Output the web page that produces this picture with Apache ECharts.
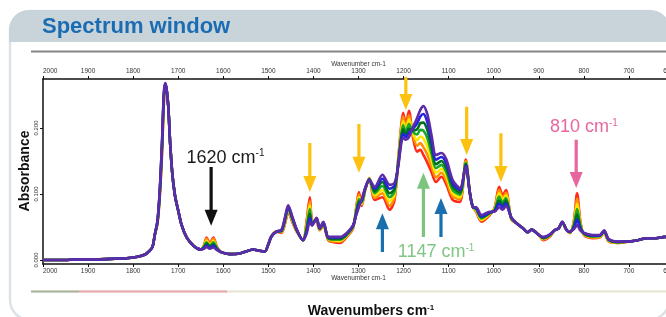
<!DOCTYPE html>
<html>
<head>
<meta charset="utf-8">
<script src="https://cdn.jsdelivr.net/npm/echarts@6/dist/echarts.min.js"></script>
<style>
html, body { margin: 0; padding: 0; background: #fff; }
#chart { width: 666px; height: 317px; }
</style>
</head>
<body>
<div id="chart"></div>
<script>
// wavenumber samples (cm-1)
var wavenumbers = [
  2000,1960,1920,1880,1840,1810,1790,1775,1765,1757,
  1752,1746,1741,1736,1732,1729,1726,1722,1718,1713,
  1707,1700,1692,1681,1665,1650,1643,1637,1630,1622,
  1614,1605,1585,1563,1545,1534,1520,1508,1500,1493,
  1482,1471,1463,1456,1447,1437,1423,1415,1408,1403,
  1393,1386,1378,1367,1355,1341,1326,1312,1305,1299,
  1293,1285,1276,1264,1247,1231,1220,1212,1205,1201,
  1195,1188,1180,1170,1163,1156,1147,1138,1128,1116,
  1105,1091,1075,1062,1053,1046,1039,1027,1009,998,
  988,980,973,961,950,935,925,916,900,890,
  875,865,856,848,838,831,822,815,808,800,
  780,765,755,745,725,700,680,660,640,620,600
];

// absorbance of each spectrum, red -> purple
var red = [
  0.000,0.000,0.001,0.001,0.002,0.003,0.005,0.008,0.013,0.020,
  0.038,0.055,0.095,0.160,0.235,0.260,0.258,0.232,0.178,0.130,
  0.097,0.075,0.052,0.034,0.021,0.016,0.022,0.034,0.025,0.034,
  0.020,0.012,0.009,0.010,0.014,0.016,0.014,0.013,0.024,0.036,
  0.043,0.041,0.055,0.073,0.058,0.043,0.030,0.060,0.095,0.060,
  0.058,0.045,0.052,0.030,0.027,0.026,0.035,0.048,0.080,0.103,
  0.082,0.106,0.124,0.091,0.095,0.076,0.091,0.152,0.205,0.223,
  0.205,0.226,0.189,0.164,0.167,0.159,0.147,0.133,0.118,0.126,
  0.114,0.091,0.088,0.152,0.102,0.080,0.073,0.058,0.068,0.079,
  0.111,0.098,0.106,0.061,0.056,0.048,0.042,0.046,0.038,0.030,
  0.036,0.045,0.048,0.056,0.045,0.041,0.060,0.101,0.060,0.038,
  0.033,0.034,0.041,0.028,0.026,0.028,0.030,0.033,0.033,0.035,0.034
];
var orange = [
  0.000,0.000,0.001,0.001,0.002,0.003,0.005,0.008,0.013,0.020,
  0.038,0.056,0.097,0.163,0.238,0.261,0.258,0.232,0.178,0.130,
  0.097,0.075,0.052,0.034,0.021,0.016,0.021,0.032,0.024,0.032,
  0.019,0.012,0.009,0.010,0.014,0.016,0.014,0.013,0.024,0.036,
  0.043,0.042,0.057,0.075,0.059,0.043,0.030,0.057,0.089,0.059,
  0.059,0.046,0.053,0.031,0.028,0.028,0.036,0.049,0.078,0.099,
  0.084,0.107,0.124,0.094,0.101,0.082,0.095,0.150,0.200,0.217,
  0.201,0.219,0.191,0.173,0.177,0.171,0.159,0.142,0.125,0.132,
  0.120,0.096,0.092,0.150,0.102,0.080,0.074,0.060,0.069,0.078,
  0.106,0.094,0.102,0.062,0.056,0.048,0.042,0.046,0.038,0.031,
  0.037,0.045,0.048,0.056,0.045,0.041,0.058,0.093,0.058,0.039,
  0.034,0.035,0.042,0.029,0.026,0.028,0.030,0.033,0.033,0.035,0.034
];
var yellow = [
  0.000,0.000,0.001,0.001,0.002,0.003,0.005,0.008,0.013,0.020,
  0.038,0.057,0.098,0.166,0.241,0.263,0.259,0.232,0.178,0.130,
  0.097,0.075,0.052,0.034,0.021,0.016,0.020,0.029,0.022,0.029,
  0.018,0.012,0.009,0.010,0.014,0.016,0.014,0.013,0.024,0.036,
  0.043,0.043,0.058,0.076,0.061,0.044,0.030,0.053,0.083,0.057,
  0.060,0.046,0.054,0.032,0.030,0.029,0.037,0.050,0.076,0.095,
  0.085,0.107,0.123,0.098,0.106,0.089,0.100,0.148,0.196,0.210,
  0.197,0.213,0.193,0.181,0.187,0.184,0.171,0.152,0.132,0.138,
  0.127,0.101,0.095,0.148,0.102,0.080,0.075,0.061,0.070,0.077,
  0.101,0.091,0.098,0.062,0.056,0.048,0.042,0.046,0.038,0.032,
  0.037,0.045,0.048,0.057,0.045,0.042,0.056,0.085,0.055,0.039,
  0.035,0.035,0.042,0.029,0.027,0.028,0.030,0.033,0.033,0.035,0.034
];
var green = [
  0.000,0.000,0.001,0.001,0.002,0.003,0.005,0.008,0.013,0.020,
  0.038,0.058,0.100,0.169,0.244,0.264,0.259,0.232,0.178,0.130,
  0.097,0.075,0.052,0.034,0.021,0.016,0.020,0.027,0.021,0.027,
  0.018,0.012,0.009,0.010,0.014,0.016,0.014,0.013,0.024,0.036,
  0.043,0.044,0.060,0.078,0.062,0.045,0.030,0.050,0.077,0.056,
  0.061,0.047,0.055,0.033,0.031,0.031,0.038,0.051,0.074,0.092,
  0.087,0.108,0.123,0.101,0.112,0.095,0.104,0.147,0.191,0.204,
  0.194,0.206,0.195,0.190,0.197,0.196,0.184,0.161,0.139,0.144,
  0.133,0.106,0.099,0.147,0.102,0.080,0.077,0.063,0.071,0.076,
  0.096,0.087,0.094,0.063,0.056,0.048,0.042,0.046,0.038,0.033,
  0.038,0.045,0.048,0.057,0.045,0.042,0.054,0.077,0.053,0.040,
  0.036,0.036,0.043,0.030,0.027,0.028,0.030,0.033,0.033,0.035,0.034
];
var darkGreen = [
  0.000,0.000,0.001,0.001,0.002,0.003,0.005,0.008,0.013,0.020,
  0.038,0.058,0.102,0.172,0.246,0.265,0.259,0.232,0.178,0.130,
  0.097,0.075,0.052,0.034,0.021,0.016,0.019,0.025,0.020,0.024,
  0.017,0.012,0.009,0.010,0.014,0.016,0.014,0.013,0.024,0.036,
  0.043,0.044,0.062,0.080,0.063,0.045,0.030,0.047,0.070,0.055,
  0.062,0.047,0.056,0.033,0.032,0.032,0.039,0.051,0.072,0.088,
  0.089,0.108,0.122,0.104,0.118,0.101,0.108,0.145,0.186,0.198,
  0.190,0.199,0.196,0.198,0.207,0.208,0.196,0.170,0.145,0.150,
  0.139,0.111,0.102,0.145,0.102,0.080,0.078,0.065,0.071,0.075,
  0.090,0.083,0.090,0.064,0.056,0.048,0.042,0.046,0.038,0.033,
  0.038,0.045,0.048,0.057,0.045,0.042,0.051,0.069,0.050,0.040,
  0.036,0.037,0.044,0.031,0.027,0.028,0.030,0.033,0.033,0.035,0.034
];
var blue = [
  0.000,0.000,0.001,0.001,0.002,0.003,0.005,0.008,0.013,0.020,
  0.038,0.059,0.103,0.175,0.249,0.267,0.260,0.232,0.178,0.130,
  0.097,0.075,0.052,0.034,0.021,0.016,0.018,0.022,0.018,0.022,
  0.016,0.012,0.009,0.010,0.014,0.016,0.014,0.013,0.024,0.036,
  0.043,0.045,0.063,0.081,0.065,0.046,0.030,0.043,0.064,0.053,
  0.063,0.048,0.057,0.034,0.034,0.034,0.040,0.052,0.070,0.084,
  0.090,0.109,0.122,0.108,0.123,0.108,0.113,0.143,0.182,0.191,
  0.186,0.193,0.198,0.207,0.217,0.221,0.208,0.180,0.152,0.156,
  0.146,0.116,0.106,0.143,0.102,0.080,0.079,0.066,0.072,0.074,
  0.085,0.080,0.086,0.064,0.056,0.048,0.042,0.046,0.038,0.034,
  0.039,0.045,0.048,0.058,0.045,0.043,0.049,0.061,0.048,0.041,
  0.037,0.037,0.044,0.031,0.028,0.028,0.030,0.033,0.033,0.035,0.034
];
var purple = [
  0.000,0.000,0.001,0.001,0.002,0.003,0.005,0.008,0.013,0.020,
  0.038,0.060,0.105,0.178,0.252,0.268,0.260,0.232,0.178,0.130,
  0.097,0.075,0.052,0.034,0.021,0.016,0.017,0.020,0.017,0.019,
  0.015,0.012,0.009,0.010,0.014,0.016,0.014,0.013,0.024,0.036,
  0.043,0.046,0.065,0.083,0.066,0.046,0.030,0.040,0.058,0.052,
  0.064,0.048,0.058,0.035,0.035,0.035,0.041,0.053,0.068,0.080,
  0.092,0.109,0.121,0.111,0.129,0.114,0.117,0.141,0.177,0.185,
  0.182,0.186,0.200,0.215,0.227,0.233,0.220,0.189,0.159,0.162,
  0.152,0.121,0.109,0.141,0.102,0.080,0.080,0.068,0.073,0.073,
  0.080,0.076,0.082,0.065,0.056,0.048,0.042,0.046,0.038,0.035,
  0.039,0.045,0.048,0.058,0.045,0.043,0.047,0.053,0.045,0.041,
  0.038,0.038,0.045,0.032,0.028,0.028,0.030,0.033,0.033,0.035,0.034
];

var yTicks = [0, 0.1, 0.2];

// annotation arrows, in data units (wavenumber, absorbance from -> to)
var arrowMarks = [
  { wn: 1627, from: 0.141, to: 0.052, color: '#111111' },
  { wn: 1408, from: 0.177, to: 0.103, color: '#fdc20f' },
  { wn: 1299, from: 0.206, to: 0.132, color: '#fdc20f' },
  { wn: 1195, from: 0.277, to: 0.227, color: '#fdc20f' },
  { wn: 1060, from: 0.232, to: 0.159, color: '#fdc20f' },
  { wn: 984,  from: 0.192, to: 0.118, color: '#fdc20f' },
  { wn: 817,  from: 0.182, to: 0.109, color: '#e8669e' },
  { wn: 1247, from: 0.012, to: 0.071, color: '#1a6fae' },
  { wn: 1117, from: 0.035, to: 0.094, color: '#1a6fae' },
  { wn: 1156, from: 0.035, to: 0.132, color: '#7dc57f' }
];
var notes = [
  { text: '1620 cm', wn: 1595, y: 0.155, color: '#1a1a1a' },
  { text: '810 cm',  wn: 800,  y: 0.2015, color: '#e8669e' },
  { text: '1147 cm', wn: 1128, y: 0.012, color: '#80c684' }
];

var chart = echarts.init(document.getElementById('chart'));
var font = 'Liberation Sans, Arial, sans-serif';
var tickFont = 'Liberation Sans Narrow, Liberation Sans, Arial, sans-serif';

function pairs(vals) {
  return wavenumbers.map(function (w, i) { return [w, vals[i]]; });
}

var spectra = [
  { name: 'red', color: '#ff2a1a', vals: red },
  { name: 'orange', color: '#ff9000', vals: orange },
  { name: 'yellow', color: '#ffe600', vals: yellow },
  { name: 'green', color: '#19a82a', vals: green },
  { name: 'darkGreen', color: '#00701e', vals: darkGreen },
  { name: 'blue', color: '#2323e0', vals: blue },
  { name: 'purple', color: '#5c2ca8', vals: purple }
];

function xAxisCfg(pos) {
  return {
    type: 'value',
    position: pos,
    min: 600,
    max: 2000,
    interval: 100,
    inverse: true,
    axisLine: { show: true, onZero: false, lineStyle: { color: '#111', width: 1.5 } },
    axisTick: { show: true, length: 3, lineStyle: { color: '#111', width: 1 } },
    axisLabel: {
      fontSize: 6.5, color: '#333', margin: 4, fontFamily: tickFont,
      showMinLabel: true, showMaxLabel: true, hideOverlap: false,
      alignMinLabel: 'right', alignMaxLabel: 'left',
      formatter: function (v) { return String(v); }
    },
    splitLine: { show: false },
    name: 'Wavenumber cm-1',
    nameLocation: 'middle',
    nameGap: 11,
    nameMoveOverlap: false,
    nameTextStyle: { fontSize: 6.5, color: '#333', fontFamily: tickFont }
  };
}

var option = {
  backgroundColor: '#fff',
  animation: false,
  grid: { left: 43, top: 79, width: 631, height: 185, outerBoundsMode: 'none', containLabel: false },
  xAxis: [xAxisCfg('bottom'), xAxisCfg('top')],
  yAxis: {
    type: 'value',
    min: -0.006,
    max: 0.274,
    axisLine: { show: true, lineStyle: { color: '#111', width: 1.5 } },
    axisTick: { show: true, length: 3, customValues: yTicks, lineStyle: { color: '#111' } },
    axisLabel: {
      customValues: yTicks,
      rotate: 90,
      fontSize: 6,
      color: '#333',
      margin: 4,
      fontFamily: tickFont,
      formatter: function (v) { return v.toFixed(3); }
    },
    splitLine: { show: false }
  },
  series: spectra.map(function (s) {
    return {
      name: s.name,
      type: 'line',
      xAxisIndex: 0,
      data: pairs(s.vals),
      showSymbol: false,
      smooth: 0.3,
      lineStyle: { color: s.color, width: 2.6 },
      itemStyle: { color: s.color }
    };
  }),
  graphic: [
    // panel frame and header
    { type: 'rect', z: -10, silent: true, shape: { x: 10, y: 11, width: 659, height: 309, r: 20 },
      style: { fill: '#fff', stroke: '#dce2e6', lineWidth: 2.5 } },
    { type: 'rect', z: -9, silent: true, shape: { x: 9, y: 10, width: 661, height: 32, r: [20, 20, 0, 0] },
      style: { fill: '#c9d3da' } },
    { type: 'text', z: 5, silent: true, style: { text: 'Spectrum window', x: 42, y: 27, verticalAlign: 'middle',
      font: 'bold 22px ' + font, fill: '#1b6db3' } },
    { type: 'line', z: 5, silent: true, shape: { x1: 31, y1: 51.5, x2: 666, y2: 51.5 },
      style: { stroke: '#858585', lineWidth: 2 } },
    // y axis title
    { type: 'text', z: 5, silent: true, x: 25.5, y: 171, rotation: Math.PI / 2,
      style: { text: 'Absorbance', x: 0, y: 0, align: 'center', verticalAlign: 'middle',
        font: 'bold 14px ' + font, fill: '#111' } },
    // scroll strip under the plot
    { type: 'line', z: 5, silent: true, shape: { x1: 31, y1: 291.5, x2: 666, y2: 291.5 },
      style: { stroke: '#e6e3d0', lineWidth: 2 } },
    { type: 'line', z: 5, silent: true, shape: { x1: 31, y1: 291.5, x2: 79, y2: 291.5 },
      style: { stroke: '#a9b69c', lineWidth: 2 } },
    { type: 'line', z: 5, silent: true, shape: { x1: 79, y1: 291.5, x2: 227, y2: 291.5 },
      style: { stroke: '#e8a8b0', lineWidth: 2 } },
    { type: 'text', z: 5, silent: true, style: {
      text: '{n|Wavenumbers cm}{s|-1}', x: 371, y: 311, align: 'center', verticalAlign: 'middle',
      rich: {
        n: { font: 'bold 14px ' + font, fill: '#111', lineHeight: 14 },
        s: { font: 'bold 8px ' + font, fill: '#111', lineHeight: 14, verticalAlign: 'top' }
      } } }
  ]
};

chart.setOption(option);

// arrows and labels placed from data coordinates
var extra = [];
arrowMarks.forEach(function (a) {
  var p1 = chart.convertToPixel({ xAxisIndex: 0, yAxisIndex: 0 }, [a.wn, a.from]);
  var p2 = chart.convertToPixel({ xAxisIndex: 0, yAxisIndex: 0 }, [a.wn, a.to]);
  var x = p1[0], y1 = p1[1], y2 = p2[1];
  var dir = y2 > y1 ? 1 : -1;
  var hl = 16, hw = 6.5, sw = 1.6;
  var base = y2 - dir * hl;
  extra.push({
    type: 'polygon', z: 100, silent: true,
    shape: { points: [[x - sw, y1], [x + sw, y1], [x + sw, base], [x + hw, base], [x, y2], [x - hw, base], [x - sw, base]] },
    style: { fill: a.color }
  });
});
notes.forEach(function (n) {
  var p = chart.convertToPixel({ xAxisIndex: 0, yAxisIndex: 0 }, [n.wn, n.y]);
  extra.push({
    type: 'text', z: 100, silent: true,
    style: {
      text: '{n|' + n.text + '}{s|-1}', x: p[0], y: p[1], align: 'center', verticalAlign: 'middle',
      rich: {
        n: { font: '18px ' + font, fill: n.color, lineHeight: 18 },
        s: { font: '10px ' + font, fill: n.color, lineHeight: 18, verticalAlign: 'top' }
      }
    }
  });
});
chart.setOption({ graphic: option.graphic.concat(extra) });
</script>
</body>
</html>
